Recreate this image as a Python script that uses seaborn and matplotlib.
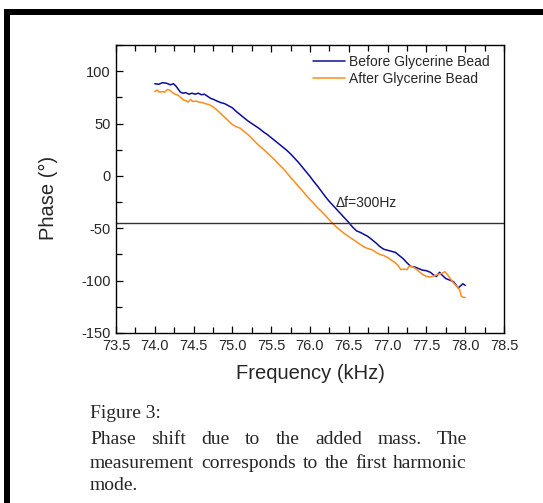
import matplotlib
matplotlib.use("Agg")
import matplotlib.pyplot as plt
import seaborn as sns
import pandas as pd
import numpy as np
from matplotlib.patches import Rectangle
from matplotlib.ticker import MultipleLocator

# ---------------- data ----------------
before_f = [74.00, 74.05, 74.10, 74.15, 74.20, 74.24, 74.27, 74.30, 74.33, 74.36, 74.40, 74.44,
            74.48, 74.52, 74.56, 74.60, 74.64, 74.68, 74.72, 74.76, 74.80, 74.85, 74.90, 74.95,
            75.00, 75.05, 75.10, 75.15, 75.20, 75.25, 75.30, 75.35, 75.40, 75.45, 75.50, 75.55,
            75.60, 75.65, 75.70, 75.75, 75.80, 75.85, 75.90, 75.95, 76.00, 76.05, 76.10, 76.15,
            76.20, 76.25, 76.30, 76.35, 76.40, 76.45, 76.50, 76.55, 76.60, 76.65, 76.70, 76.75,
            76.80, 76.85, 76.90, 76.95, 77.00, 77.05, 77.10, 77.15, 77.20, 77.25, 77.30, 77.35,
            77.40, 77.45, 77.50, 77.55, 77.60, 77.63, 77.67, 77.70, 77.75, 77.80, 77.85, 77.88,
            77.91, 77.94, 77.97, 78.00]
before_phase = [88, 87.5, 89, 88.5, 87, 88, 86, 83, 80, 79, 79.5, 78,
                79, 78, 79, 77.5, 78, 76, 74, 73, 71.5, 70, 69, 67,
                65, 61.5, 58.5, 55.5, 52.5, 50, 47.5, 45, 42, 39.5, 36.5, 33.5,
                30.5, 27.5, 24.5, 21, 17, 13, 8.5, 4, -0.5, -5.5, -10, -15,
                -20, -24.5, -28.5, -32.5, -36.5, -40.5, -44.5, -49, -52.5, -54, -56, -58,
                -61, -64, -67.5, -70, -71, -72, -73, -76, -79, -83, -86.5, -87,
                -88.5, -90, -90.5, -92, -95, -96, -92, -94.5, -98, -99.5, -101, -104,
                -107, -105, -103, -104.5]

after_f = [74.00, 74.03, 74.06, 74.10, 74.13, 74.16, 74.19, 74.22, 74.26, 74.30, 74.34, 74.37,
           74.40, 74.43, 74.46, 74.49, 74.53, 74.57, 74.61, 74.65, 74.70, 74.75, 74.80, 74.85,
           74.90, 74.95, 75.00, 75.05, 75.10, 75.15, 75.20, 75.25, 75.30, 75.35, 75.40, 75.45,
           75.50, 75.55, 75.60, 75.65, 75.70, 75.75, 75.80, 75.85, 75.90, 75.95, 76.00, 76.05,
           76.10, 76.15, 76.20, 76.25, 76.30, 76.35, 76.40, 76.45, 76.50, 76.55, 76.60, 76.65,
           76.70, 76.75, 76.80, 76.85, 76.90, 76.95, 77.00, 77.05, 77.10, 77.14, 77.17, 77.21,
           77.25, 77.28, 77.31, 77.35, 77.40, 77.45, 77.50, 77.55, 77.60, 77.65, 77.70, 77.74,
           77.78, 77.82, 77.86, 77.90, 77.93, 77.95, 77.98, 78.00]
after_phase = [80.5, 82, 80, 80.5, 80, 82.5, 82, 80, 78, 77, 74.5, 72.5,
               72, 70.5, 73, 71, 71.5, 70.5, 70, 69, 68, 66, 63, 59.5,
               56, 52.5, 49, 47, 45.5, 42.5, 39.5, 36, 32, 28.5, 25.5, 22,
               18.5, 15, 11, 7.5, 3, -1.5, -5.5, -10, -14, -18.5, -22.5, -26.5,
               -30.5, -34, -38, -42, -46, -49.5, -52.5, -55.5, -58, -60.5, -63, -65.5,
               -68, -69.5, -70.5, -73, -75, -76, -78, -80.5, -83, -86, -89.5, -89,
               -89.5, -86, -86.5, -88, -91, -94, -96, -96.5, -95.5, -94, -93, -91.5,
               -95, -99.5, -103, -106, -109, -115, -116, -116]

series_names = ["Before Glycerine Bead", "After Glycerine Bead"]
series_colors = ["#0c0c9c", "#ff8c1c"]
ref_level = -45
annotation = "\u0394f=300Hz"
annot_pos = (76.33, -26)
x_label = "Frequency (kHz)"
y_label = "Phase (\u00b0)"
caption_title = "Figure 3:"
caption_lines = ["Phase shift due to the added mass. The",
                 "measurement corresponds to the first harmonic",
                 "mode."]

df = pd.concat([
    pd.DataFrame({"f": before_f, "phase": before_phase, "series": series_names[0]}),
    pd.DataFrame({"f": after_f, "phase": after_phase, "series": series_names[1]}),
], ignore_index=True)

# ---------------- figure ----------------
sns.set_style("ticks")
plt.rcParams["font.family"] = ["Liberation Sans", "DejaVu Sans"]
plt.rcParams["axes.unicode_minus"] = False

W, H = 543, 503
fig = plt.figure(figsize=(W / 100, H / 100), dpi=100)
fig.patch.set_facecolor("white")

# black page frame (top and left visible)
fig.add_artist(Rectangle((4 / W, 0), 6 / W, (H - 9) / H, transform=fig.transFigure,
                         facecolor="black", edgecolor="none"))
fig.add_artist(Rectangle((4 / W, (H - 15) / H), 1 - 4 / W, 6 / H, transform=fig.transFigure,
                         facecolor="black", edgecolor="none"))

ax = fig.add_axes([116 / W, 1 - 333 / H, (504 - 116) / W, (333 - 45) / H])
sns.lineplot(data=df, x="f", y="phase", hue="series", palette=series_colors,
             hue_order=series_names, sort=False, estimator=None, linewidth=1.1, ax=ax)

ax.axhline(ref_level, color="#333333", linewidth=1.0)
ax.text(annot_pos[0], annot_pos[1], annotation, fontsize=10, ha="left", va="center")

ax.set_xlim(73.5, 78.5)
ax.set_ylim(-150, 125)
ax.xaxis.set_major_locator(MultipleLocator(0.5))
ax.xaxis.set_minor_locator(MultipleLocator(0.25))
ax.yaxis.set_major_locator(MultipleLocator(50))
ax.yaxis.set_minor_locator(MultipleLocator(25))
ax.set_xticklabels([f"{v:.1f}" for v in ax.get_xticks()])
ax.tick_params(axis="both", which="both", direction="in", labelsize=10.5, width=0.9, color="black")
ax.tick_params(axis="x", which="both", top=True)
ax.tick_params(axis="both", which="major", length=5, pad=4)
ax.tick_params(axis="both", which="minor", length=4)
ax.tick_params(axis="y", which="both", right=False)
for s in ax.spines.values():
    s.set_visible(True)
    s.set_linewidth(1.0)
    s.set_color("black")

ax.set_xlabel(x_label, fontsize=14.5, labelpad=8)
ax.set_ylabel(y_label, fontsize=14.5)
ax.yaxis.set_label_coords(-0.15, 0.47)

leg = ax.legend(loc="upper right", frameon=False, fontsize=10, handlelength=2.3,
                handletextpad=0.3, labelspacing=0.25, borderaxespad=0.2,
                bbox_to_anchor=(0.985, 0.995))

# ---------------- caption (justified) ----------------
cap_left, cap_right = 90, 467
serif = ["Liberation Serif", "DejaVu Serif"]
cap_size = 14
fig.text(cap_left / W, 1 - 413 / H, caption_title, fontsize=cap_size, family=serif,
         ha="left", va="center")
renderer = fig.canvas.get_renderer()
line_y = [440, 463, 486]
for i, line in enumerate(caption_lines):
    y = 1 - line_y[i] / H
    words = line.split(" ")
    if i == len(caption_lines) - 1 or len(words) == 1:
        fig.text(cap_left / W, y, line, fontsize=cap_size, family=serif, ha="left", va="center")
        continue
    texts = [fig.text(0, y, w_, fontsize=cap_size, family=serif, ha="left", va="center") for w_ in words]
    widths = [t.get_window_extent(renderer).width for t in texts]
    gap = (cap_right - cap_left - sum(widths)) / (len(words) - 1)
    x = cap_left
    for t, wd in zip(texts, widths):
        t.set_x(x / W)
        x += wd + gap

fig.savefig("out.png", dpi=100, facecolor="white")
